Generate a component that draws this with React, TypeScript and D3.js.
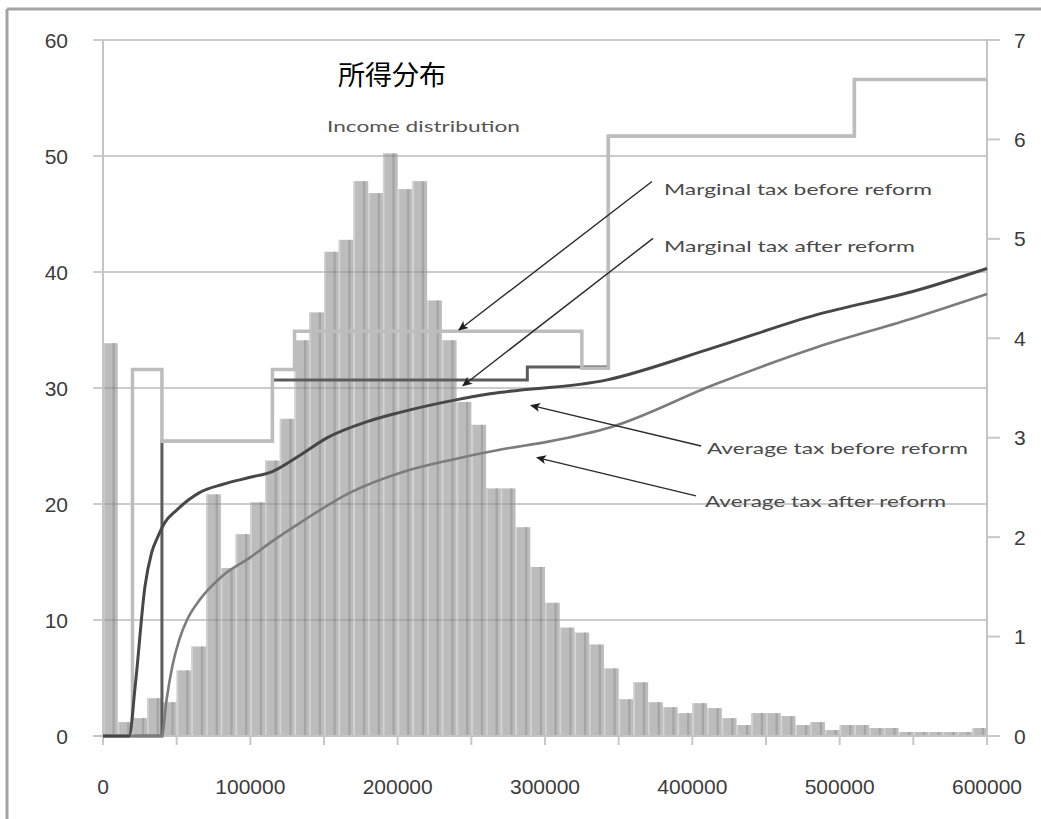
import * as d3 from "d3";

// histogram: share of households per 10,000 income bin (right axis, %)
const BIN = 10000;
const shareOfHouseholds = [
  3.95, 0.14, 0.18, 0.38, 0.34, 0.66, 0.9, 2.43, 1.69, 2.03,
  2.35, 2.77, 3.19, 3.98, 4.26, 4.87, 4.99, 5.58, 5.46, 5.86,
  5.5, 5.58, 4.38, 3.98, 3.36, 3.13, 2.49, 2.49, 2.1, 1.7,
  1.34, 1.09, 1.04, 0.92, 0.68, 0.37, 0.54, 0.34, 0.29, 0.23,
  0.33, 0.28, 0.18, 0.11, 0.23, 0.23, 0.2, 0.11, 0.14, 0.06,
  0.11, 0.11, 0.08, 0.08, 0.04, 0.04, 0.04, 0.04, 0.04, 0.08,
];

// marginal tax (left axis, %), step after each break
const marginalBeforeIncome = [0, 20000, 40000, 115000, 130000, 325000, 343000, 510000, 600000];
const marginalBeforeRate = [0, 31.6, 25.4, 31.6, 34.9, 31.7, 51.7, 56.6, 56.6];
const marginalAfterIncome = [0, 40000, 115000, 288000, 343000, 510000, 600000];
const marginalAfterRate = [0, 25.4, 30.7, 31.8, 51.7, 56.6, 56.6];

// average tax (left axis, %)
const avgBeforeIncome = [
  0, 17700, 22000, 28500, 33000, 37300, 42000, 50200, 65800, 81400, 99800,
  115000, 133700, 152000, 179200, 201600, 240300, 262700, 342100, 415000,
  484000, 552000, 600000,
];
const avgBeforeRate = [
  0, 0, 4.5, 12.9, 15.8, 17.2, 18.4, 19.5, 21.0, 21.7, 22.3,
  22.8, 24.2, 25.7, 27.1, 27.9, 29.0, 29.5, 30.7, 33.5,
  36.3, 38.4, 40.3,
];
const avgAfterIncome = [
  0, 40000, 43000, 47000, 52000, 57000, 66000, 81000, 100000, 115000, 134000,
  168000, 202000, 236000, 270000, 303000, 344000, 415000, 484000, 552000, 600000,
];
const avgAfterRate = [
  0, 0, 3.0, 6.0, 8.4, 10.0, 11.8, 13.8, 15.4, 16.8, 18.4,
  21.0, 22.7, 23.8, 24.7, 25.4, 26.6, 30.3, 33.5, 36.1, 38.1,
];

const xTicks = [0, 100000, 200000, 300000, 400000, 500000, 600000];
const xMinorTicks = [0, 50000, 100000, 150000, 200000, 250000, 300000, 350000, 400000, 450000, 500000, 550000, 600000];
const leftTicks = [0, 10, 20, 30, 40, 50, 60];
const rightTicks = [0, 1, 2, 3, 4, 5, 6, 7];

// annotations: label anchor + arrow (income, left-axis %)
const notes = [
  { text: "Marginal tax before reform", lx: 380800, ly: 47.1, len: 268, from: [372600, 47.8], to: [241600, 35.0] },
  { text: "Marginal tax after reform", lx: 380800, ly: 42.2, len: 251, from: [373300, 42.9], to: [244300, 30.2] },
  { text: "Average tax before reform", lx: 409900, ly: 24.8, len: 261, from: [406000, 25.0], to: [290500, 28.5] },
  { text: "Average tax after reform", lx: 408600, ly: 20.2, len: 241, from: [402500, 20.7], to: [294600, 24.0] },
];

const zip = (a: number[], b: number[]) => a.map((v, i) => [v, b[i]] as [number, number]);

export default function App() {
  const width = 1041;
  const height = 819;

  const x = d3.scaleLinear().domain([0, 600000]).range([103, 987]);
  const yL = d3.scaleLinear().domain([0, 60]).range([736, 40]);
  const yR = d3.scaleLinear().domain([0, 7]).range([736, 40]);

  const step = d3
    .line<[number, number]>()
    .x((d) => x(d[0]))
    .y((d) => yL(d[1]))
    .curve(d3.curveStepAfter);
  const smooth = d3
    .line<[number, number]>()
    .x((d) => x(d[0]))
    .y((d) => yL(d[1]))
    .curve(d3.curveMonotoneX);

  const numFont = "'Liberation Sans', Arial, sans-serif";
  const noteFont = "Lato, 'Open Sans', sans-serif";
  const bw = x(BIN) - x(0);

  return (
    <svg
      width={width}
      height={height}
      style={{ position: "absolute", left: 0, top: 0, display: "block", background: "#fff" }}
    >
      <defs>
        <marker
          id="arr"
          viewBox="0 0 10 10"
          refX="9"
          refY="5"
          markerWidth="10"
          markerHeight="10"
          markerUnits="userSpaceOnUse"
          orient="auto"
        >
          <path d="M0,0.5 L10,5 L0,9.5 L2.5,5 Z" fill="#1e1e1e" />
        </marker>
      </defs>

      {/* outer frame */}
      <line x1={7} y1={9} x2={width} y2={9} stroke="#a4a4a4" strokeWidth={3} />
      <line x1={7} y1={9} x2={7} y2={height} stroke="#a4a4a4" strokeWidth={3} />

      {/* grid lines */}
      {leftTicks.map((t) => (
        <line key={t} x1={93} x2={987} y1={yL(t)} y2={yL(t)} stroke="#cccccc" strokeWidth={2} />
      ))}

      {/* histogram */}
      <g opacity={0.625}>
        {shareOfHouseholds.map((v, i) => {
          const x0 = x(i * BIN);
          const top = yR(v);
          const h = yR(0) - top;
          return (
            <g key={i}>
              <rect x={x0} y={top} width={bw} height={h} fill="#959595" />
              <rect x={x0} y={top} width={1.6} height={h} fill="#b9b9b9" />
              <rect x={x0 + bw * 0.64} y={top} width={bw * 0.16} height={h} fill="#707070" />
            </g>
          );
        })}
      </g>

      {/* axes */}
      <line x1={103} x2={103} y1={40} y2={745} stroke="#c4c4c4" strokeWidth={2} />
      <line x1={987} x2={987} y1={40} y2={745} stroke="#c4c4c4" strokeWidth={2} />
      <line x1={93} x2={1000} y1={736} y2={736} stroke="#c4c4c4" strokeWidth={2} />
      {xMinorTicks.map((t) => (
        <line key={t} x1={x(t)} x2={x(t)} y1={736} y2={745} stroke="#c8c8c8" strokeWidth={2} />
      ))}
      {rightTicks.map((t) => (
        <line key={t} x1={987} x2={1000} y1={yR(t)} y2={yR(t)} stroke="#c8c8c8" strokeWidth={2} />
      ))}

      {/* tick labels */}
      {leftTicks.map((t) => (
        <text key={t} x={68} y={yL(t)} dy="0.36em" textAnchor="end" fontFamily={numFont} fontSize={21} fill="#3c3c3c">
          {t}
        </text>
      ))}
      {rightTicks.map((t) => (
        <text key={t} x={1014} y={yR(t)} dy="0.36em" textAnchor="start" fontFamily={numFont} fontSize={21} fill="#3c3c3c">
          {t}
        </text>
      ))}
      {xTicks.map((t) => (
        <text key={t} x={x(t)} y={786} dy="0.36em" textAnchor="middle" fontFamily={numFont} fontSize={21} fill="#3c3c3c">
          {t}
        </text>
      ))}

      {/* tax lines */}
      <path d={step(zip(marginalAfterIncome, marginalAfterRate)) ?? ""} fill="none" stroke="#5c5c5c" strokeWidth={3} />
      <path d={step(zip(marginalBeforeIncome, marginalBeforeRate)) ?? ""} fill="none" stroke="#bdbdbd" strokeWidth={3.5} />
      <path d={smooth(zip(avgAfterIncome, avgAfterRate)) ?? ""} fill="none" stroke="#7c7c7c" strokeWidth={2.6} />
      <path d={smooth(zip(avgBeforeIncome, avgBeforeRate)) ?? ""} fill="none" stroke="#474747" strokeWidth={3} />

      {/* titles */}
      <text x={392} y={76} dy="0.35em" textAnchor="middle" fontFamily="'Noto Sans CJK JP', sans-serif" fontSize={27} fill="#000">
        所得分布
      </text>
      <text
        x={327}
        y={126}
        dy="0.35em"
        fontFamily={noteFont}
        fontSize={16}
        fill="#555"
        textLength={193}
        lengthAdjust="spacingAndGlyphs"
      >
        Income distribution
      </text>

      {/* annotations */}
      {notes.map((n) => (
        <g key={n.text}>
          <line
            x1={x(n.from[0])}
            y1={yL(n.from[1])}
            x2={x(n.to[0])}
            y2={yL(n.to[1])}
            stroke="#2a2a2a"
            strokeWidth={1.4}
            markerEnd="url(#arr)"
          />
          <text
            x={x(n.lx)}
            y={yL(n.ly)}
            dy="0.35em"
            fontFamily={noteFont}
            fontSize={16}
            fill="#4a4a4a"
            textLength={n.len}
            lengthAdjust="spacingAndGlyphs"
          >
            {n.text}
          </text>
        </g>
      ))}
    </svg>
  );
}
